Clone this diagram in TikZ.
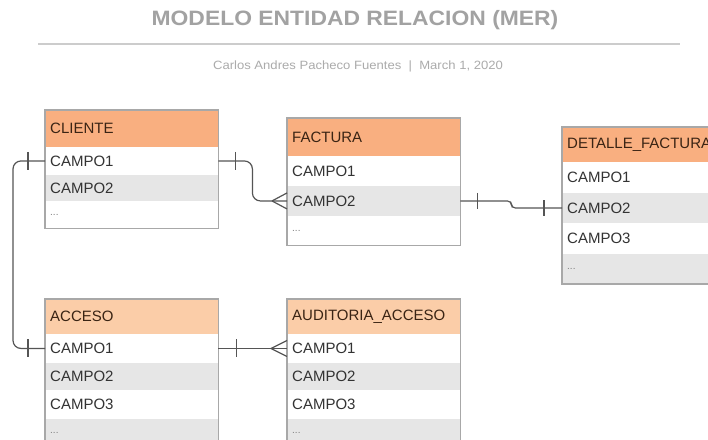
\documentclass[tikz,border=0pt]{standalone}
\usepackage{fontspec}
\setmainfont{Liberation Sans}
\definecolor{hdrA}{HTML}{F9AF80}
\definecolor{hdrB}{HTML}{FBCDA8}
\definecolor{hdrtxt}{HTML}{3A2414}
\definecolor{bodytxt}{HTML}{333333}
\definecolor{rowgray}{HTML}{E6E6E6}
\definecolor{bordergray}{HTML}{A8A8A8}
\definecolor{conncol}{HTML}{555555}
\definecolor{titlegray}{HTML}{A2A2A2}
\definecolor{subgray}{HTML}{ABABAB}
\definecolor{rulegray}{HTML}{CCCCCC}
\newcommand{\fsz}[1]{\fontsize{#1}{#1}\selectfont}
\tikzset{
  hdr/.style={anchor=north west, fill=hdrA, text=hdrtxt, inner xsep=5pt, inner ysep=0pt,
    text width=163pt, align=left, font=\fsz{15}},
  hdrlight/.style={hdr, fill=hdrB},
  row/.style={anchor=north west, inner xsep=5pt, inner ysep=0pt, text width=163pt,
    align=left, text=bodytxt, font=\fsz{15}},
  grayrow/.style={row, fill=rowgray},
  box/.style={draw=bordergray, line width=1.2pt},
  conn/.style={draw=conncol, line width=1.2pt},
}
\begin{document}
\begin{tikzpicture}[x=1pt,y=-1pt]
\clip (0,0) rectangle (708,439);
\fill[white] (0,0) rectangle (708,439);
% title
\node[font=\bfseries\fsz{20.8}, text=titlegray] (title) at (355,20)
  {\scalebox{1.1}[1]{MODELO ENTIDAD RELACION (MER)}};
\draw[rulegray, line width=1.8pt] (38,44) -- (680,44);
\node[font=\fsz{12}, text=subgray] (sub) at (358,66)
  {\scalebox{1.09}[1]{Carlos Andres Pacheco Fuentes \ |\ \ March 1, 2020}};
% CLIENTE
\node[hdr, minimum height=37pt] (cli0) at (45,110) {CLIENTE};
\node[row, minimum height=26.7pt] (cli1) at (cli0.south west) {CAMPO1};
\node[grayrow, minimum height=26.7pt] (cli2) at (cli1.south west) {CAMPO2};
\node[row, minimum height=26.7pt] (cli3) at (cli2.south west) {\textcolor{gray}{\fsz{10}...}};
\draw[box] (cli0.north west) rectangle (cli3.south east);
% FACTURA
\node[hdr, minimum height=38pt] (fac0) at (287,118) {FACTURA};
\node[row, minimum height=29.3pt] (fac1) at (fac0.south west) {CAMPO1};
\node[grayrow, minimum height=29.3pt] (fac2) at (fac1.south west) {CAMPO2};
\node[row, minimum height=29.3pt] (fac3) at (fac2.south west) {\textcolor{gray}{\fsz{10}...}};
\draw[box] (fac0.north west) rectangle (fac3.south east);
% DETALLE_FACTURA
\node[hdr, minimum height=35pt] (det0) at (562,127) {DETALLE\_FACTURA};
\node[row, minimum height=30pt] (det1) at (det0.south west) {CAMPO1};
\node[grayrow, minimum height=30pt] (det2) at (det1.south west) {CAMPO2};
\node[row, minimum height=30pt] (det3) at (det2.south west) {CAMPO3};
\node[grayrow, minimum height=30pt] (det4) at (det3.south west) {\textcolor{gray}{\fsz{10}...}};
\draw[box] (det0.north west) rectangle (det4.south east);
% ACCESO
\node[hdrlight, minimum height=35pt] (acc0) at (45,299) {ACCESO};
\node[row, minimum height=27.7pt] (acc1) at (acc0.south west) {CAMPO1};
\node[grayrow, minimum height=27.7pt] (acc2) at (acc1.south west) {CAMPO2};
\node[row, minimum height=27.7pt] (acc3) at (acc2.south west) {CAMPO3};
\node[grayrow, minimum height=27.7pt] (acc4) at (acc3.south west) {\textcolor{gray}{\fsz{10}...}};
\draw[box] (acc0.north west) rectangle (acc4.south east);
% AUDITORIA_ACCESO
\node[hdrlight, minimum height=35pt] (aud0) at (287,299) {AUDITORIA\_ACCESO};
\node[row, minimum height=27.7pt] (aud1) at (aud0.south west) {CAMPO1};
\node[grayrow, minimum height=27.7pt] (aud2) at (aud1.south west) {CAMPO2};
\node[row, minimum height=27.7pt] (aud3) at (aud2.south west) {CAMPO3};
\node[grayrow, minimum height=27.7pt] (aud4) at (aud3.south west) {\textcolor{gray}{\fsz{10}...}};
\draw[box] (aud0.north west) rectangle (aud4.south east);
% connector CLIENTE -> FACTURA
\draw[conn, rounded corners=8pt] (cli1.east) -- ([xshift=34pt]cli1.east) |- (fac2.west);
\draw[conn] ([xshift=17pt]cli1.east) ++(0,-9) -- ++(0,18);
\draw[conn] ([xshift=-15pt]fac2.west) -- ([yshift=8pt]fac2.west);
\draw[conn] ([xshift=-15pt]fac2.west) -- ([yshift=-8pt]fac2.west);
% connector FACTURA -> DETALLE
\draw[conn, rounded corners=4pt] (fac2.east) -- ([xshift=51pt]fac2.east) |- (det2.west);
\draw[conn] ([xshift=17pt]fac2.east) ++(0,-8) -- ++(0,16);
\draw[conn] ([xshift=-18pt]det2.west) ++(0,-8) -- ++(0,16);
% connector CLIENTE -> ACCESO
\draw[conn, rounded corners=8pt] (cli1.west) -- ([xshift=-32pt]cli1.west) |- (acc1.west);
\draw[conn] ([xshift=-17pt]cli1.west) ++(0,-9) -- ++(0,18);
\draw[conn] ([xshift=-17pt]acc1.west) ++(0,-9) -- ++(0,18);
% connector ACCESO -> AUDITORIA
\draw[conn] (acc1.east) -- (aud1.west);
\draw[conn] ([xshift=18pt]acc1.east) ++(0,-9) -- ++(0,18);
\draw[conn] ([xshift=-16pt]aud1.west) -- ([yshift=8pt]aud1.west);
\draw[conn] ([xshift=-16pt]aud1.west) -- ([yshift=-8pt]aud1.west);
\end{tikzpicture}
\end{document}
